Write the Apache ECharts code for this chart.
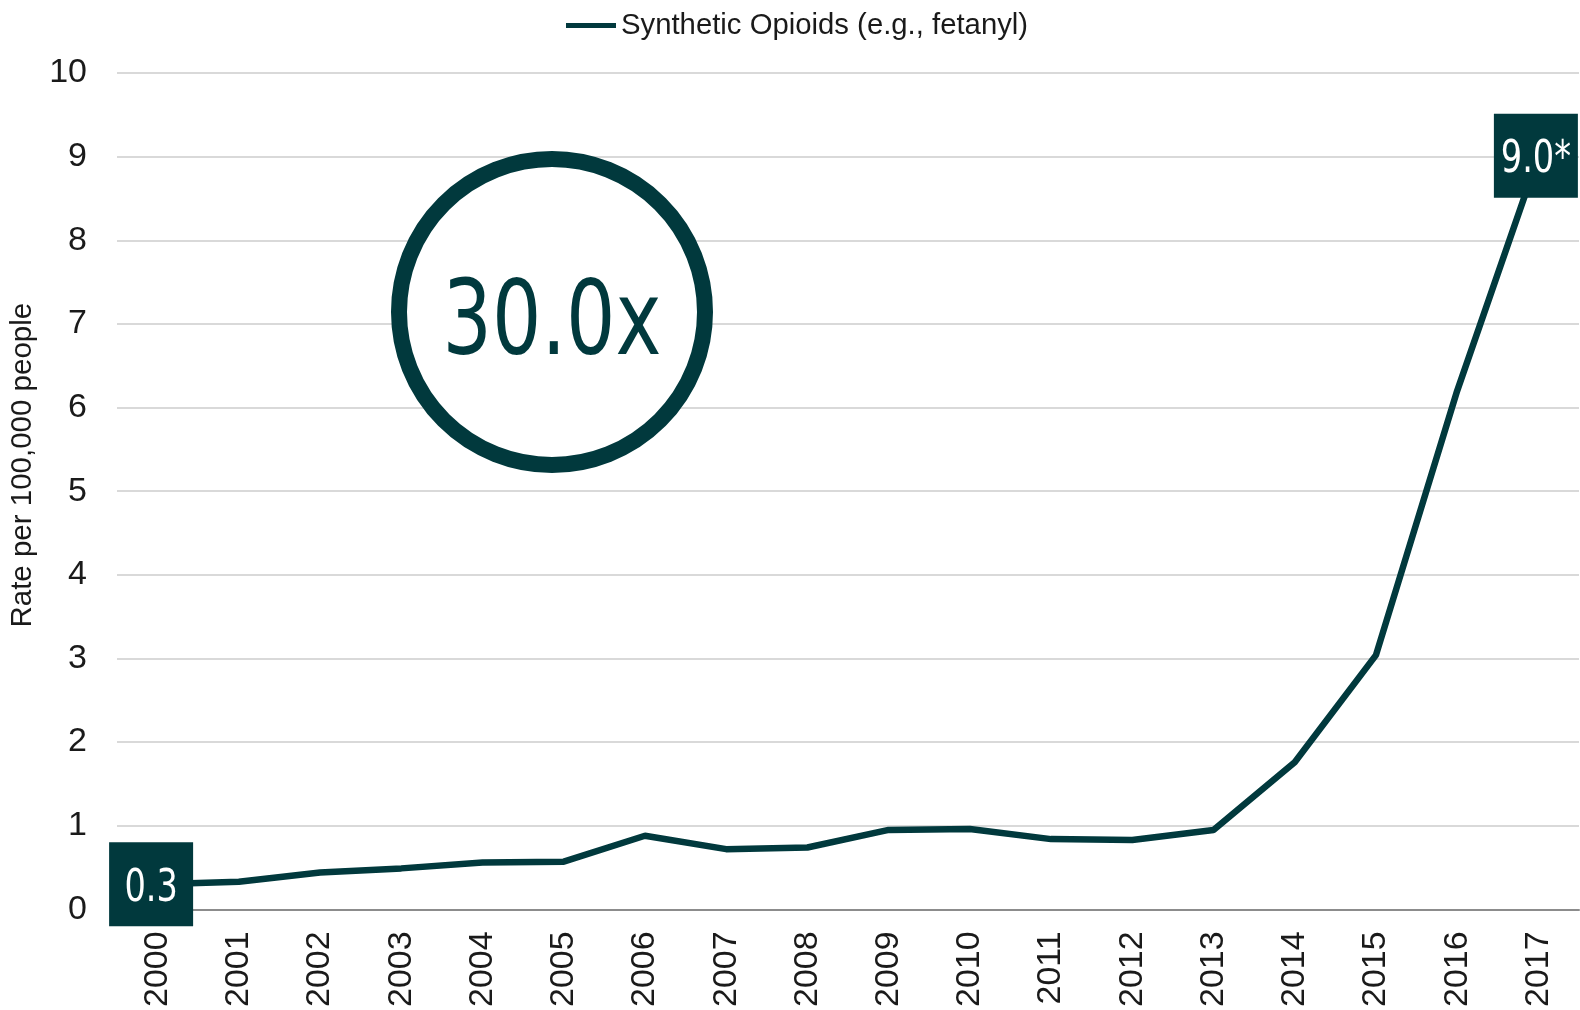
<!DOCTYPE html>
<html>
<head>
<meta charset="utf-8">
<script src="https://cdn.jsdelivr.net/npm/echarts@6/dist/echarts.min.js"></script>
<style>
html,body{margin:0;padding:0;background:#fff;}
#chart{width:1580px;height:1010px;}
</style>
</head>
<body>
<div id="chart"></div>
<script>
const years = ['2000','2001','2002','2003','2004','2005','2006','2007','2008','2009','2010','2011','2012','2013','2014','2015','2016','2017'];
const rates = [0.30,0.33,0.44,0.49,0.56,0.57,0.88,0.72,0.74,0.95,0.96,0.84,0.83,0.95,1.76,3.04,6.2,9.0];
const seriesName = 'Synthetic Opioids (e.g., fetanyl)';
const labelIndices = [0, 17];
const labelTexts = ['0.3', '9.0*'];
const yTicks = [0,1,2,3,4,5,6,7,8,9,10];
const multiplierText = '30.0x';

const teal = '#01393d';
const narrow = '"DejaVu Sans Condensed", "Liberation Sans Narrow", sans-serif';
const sans = '"Liberation Sans", Arial, sans-serif';
const squeeze = 0.83;

const chart = echarts.init(document.getElementById('chart'), null, {renderer: 'canvas'});
chart.setOption({
  animation: false,
  backgroundColor: '#ffffff',
  legend: {
    data: [{name: seriesName, icon: 'rect'}],
    left: 561,
    top: 6,
    itemWidth: 50,
    itemHeight: 5,
    textStyle: {fontSize: 29.3, color: '#1a1a1a', fontFamily: sans}
  },
  grid: {left: 117, right: 1, top: 73, bottom: 100, containLabel: false},
  xAxis: {
    type: 'category',
    data: years,
    boundaryGap: true,
    axisLine: {lineStyle: {color: '#8c8c8c', width: 2}},
    axisTick: {alignWithLabel: true, length: 8, lineStyle: {color: '#8c8c8c', width: 2}},
    axisLabel: {rotate: 90, margin: 22, fontSize: 34, color: '#1a1a1a', fontFamily: sans, interval: 0}
  },
  yAxis: {
    type: 'value',
    min: yTicks[0],
    max: yTicks[yTicks.length - 1],
    interval: 1,
    name: 'Rate per 100,000 people',
    nameLocation: 'middle',
    nameRotate: 90,
    nameGap: 78,
    nameTextStyle: {fontSize: 29.5, color: '#1a1a1a', fontFamily: sans, padding: [0, 0, 0, 52]},
    axisLine: {show: false},
    axisTick: {show: false},
    axisLabel: {margin: 30, fontSize: 34, color: '#1a1a1a', fontFamily: sans},
    splitLine: {lineStyle: {color: '#d9d9d9', width: 2}}
  },
  series: [{
    name: seriesName,
    type: 'line',
    data: rates,
    symbol: 'none',
    lineStyle: {color: teal, width: 6.5},
    itemStyle: {color: teal},
    z: 10
  }]
});

const offsets = [[-6.5, 0], [-2.5, -1]];
const graphics = [
  {id: 'ring', type: 'circle', z: 50, shape: {cx: 552, cy: 312, r: 153}, style: {fill: '#ffffff', stroke: teal, lineWidth: 16}},
  {id: 'mult', type: 'text', z: 51, x: 552, y: 327, scaleX: squeeze, style: {text: multiplierText, align: 'center', verticalAlign: 'middle', font: '104px ' + narrow, fill: teal}}
];
labelIndices.forEach((idx, k) => {
  const p = chart.convertToPixel({seriesIndex: 0}, [idx, rates[idx]]);
  const cx = p[0] + offsets[k][0];
  const cy = p[1] + offsets[k][1];
  graphics.push({id: 'box' + k, type: 'rect', z: 60, shape: {x: cx - 42, y: cy - 42, width: 84, height: 84}, style: {fill: teal}});
  graphics.push({id: 'lbl' + k, type: 'text', z: 61, x: cx, y: cy + 5, scaleX: squeeze, style: {text: labelTexts[k], align: 'center', verticalAlign: 'middle', font: '45px ' + narrow, fill: '#ffffff'}});
});
chart.setOption({graphic: graphics});
</script>
</body>
</html>
